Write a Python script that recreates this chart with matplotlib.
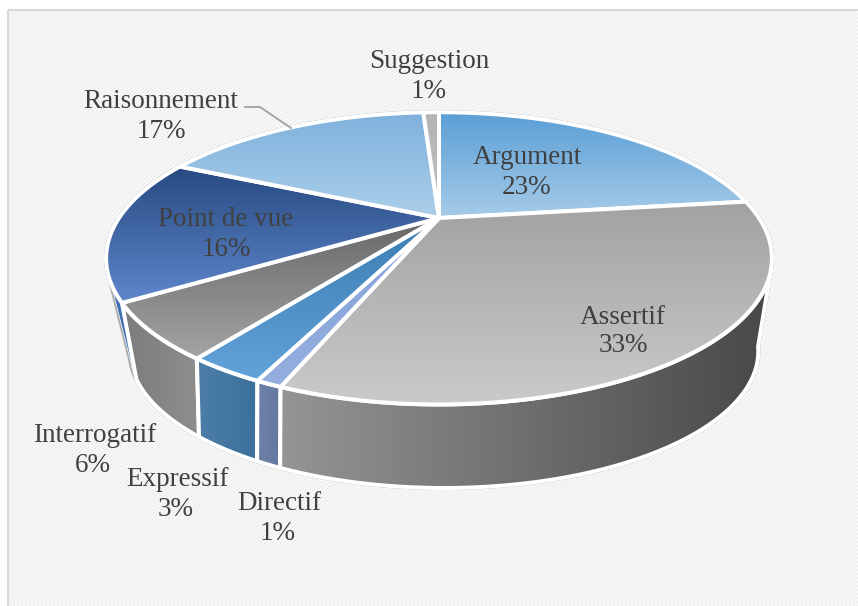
import numpy as np
import matplotlib
matplotlib.use('Agg')
import matplotlib.pyplot as plt
from matplotlib.colors import LinearSegmentedColormap
from matplotlib.patches import Polygon, Rectangle

plt.rcParams['font.family'] = ['Liberation Serif', 'DejaVu Serif']

# data
categories = ['Argument', 'Assertif', 'Directif', 'Expressif', 'Interrogatif',
              'Point de vue', 'Raisonnement', 'Suggestion']
values = [23, 33, 1, 3, 6, 16, 17, 1]

# colours: top face (upper, lower) and side wall (left, right)
top_colors = [('#5a9fd6', '#a6cbe8'), ('#a2a2a2', '#cacaca'), ('#86a2da', '#94aede'),
              ('#3a7db2', '#62a3da'), ('#686868', '#a4a4a4'), ('#264a80', '#5f86cc'),
              ('#7fb1dc', '#abcfea'), ('#b4b4b4', '#c0c0c0')]
wall_colors = [('#5a8fc0', '#5a8fc0'), ('#959595', '#484848'), ('#6d82aa', '#64789f'),
               ('#4c7ea9', '#3b709b'), ('#7c7c7c', '#8e8e8e'), ('#4272b8', '#3a66a8'),
               ('#6f9cc4', '#6f9cc4'), ('#a0a0a0', '#a0a0a0')]

# perspective circle: apex position, half axes and tilt of the top and bottom rims
TOP = (439, 218, 320, 135, 0.276)
BOTTOM = (444, 300.7, 292, 118, 0.37)
# the wall is seen only between these two pie fractions
WALL_FROM = 0.305
WALL_TO = 0.68


def rim(f0, f1, geom):
    # points of the rim between two pie fractions, clockwise from 12 o'clock
    cx, cy, a, b, k = geom
    t = 2 * np.pi * np.linspace(f0, f1, max(int((f1 - f0) * 300), 6))
    d = 1 + k * np.cos(t)
    return np.column_stack([cx + a * np.sin(t) / d, cy - b * np.cos(t) / d])


def gradient_poly(ax, pts, colors, horizontal, z, lw=2.9):
    # gradient image clipped to the polygon, white edge on top
    cmap = LinearSegmentedColormap.from_list('g', colors)
    x0, y0 = pts.min(axis=0)
    x1, y1 = pts.max(axis=0)
    ramp = np.linspace(0, 1, 256)
    ramp = ramp[None, :] if horizontal else ramp[:, None]
    im = ax.imshow(ramp, cmap=cmap, extent=(x0, x1, y1, y0), origin='upper',
                   aspect='auto', zorder=z, vmin=0, vmax=1)
    clip = Polygon(pts, closed=True, transform=ax.transData, fill=False, edgecolor='none')
    ax.add_patch(clip)
    im.set_clip_path(clip)
    ax.add_patch(Polygon(pts, closed=True, fill=False, edgecolor='white', lw=lw,
                         joinstyle='round', zorder=z + 0.1))


fig = plt.figure(figsize=(8.58, 6.06), dpi=100)
ax = fig.add_axes([0, 0, 1, 1])
ax.set_axis_off()

# textured panel
yy, xx = np.indices((606, 858))
texture = np.where((xx + yy) % 4 < 2, 0.975, 0.93)
texture[:9, :] = 1
texture[:, :8] = 1
ax.imshow(texture, cmap='gray', vmin=0, vmax=1, extent=(0, 858, 606, 0), aspect='auto',
          interpolation='nearest', zorder=0)
ax.add_patch(Rectangle((8, 9.5), 860, 610, fill=False, edgecolor='#d9d9d9', lw=1.5, zorder=1))

edges = np.cumsum([0] + values) / sum(values)

# thin grey outline round the whole cake
outline = np.vstack([rim(WALL_FROM, WALL_TO, BOTTOM), rim(WALL_TO, 1 + WALL_FROM, TOP)])
ax.add_patch(Polygon(outline, closed=True, fill=False, edgecolor='#a8a8a8', lw=3.0, zorder=2))

# walls of the front slices, the narrow one at the left goes under its neighbour
for i in range(len(values)):
    f0 = max(edges[i], WALL_FROM)
    f1 = min(edges[i + 1], WALL_TO)
    if f1 <= f0:
        continue
    lw = 0.5 if f1 == WALL_TO else 2.9
    gradient_poly(ax, np.vstack([rim(f0, f1, TOP), rim(f0, f1, BOTTOM)[::-1]]),
                  wall_colors[i], True, 3 + 0.2 * (len(values) - i), lw)

# top faces
for i in range(len(values)):
    face = np.vstack([[TOP[:2]], rim(edges[i], edges[i + 1], TOP)])
    gradient_poly(ax, face, top_colors[i], False, 6 + 0.2 * i)

# labels: centre of the name line, centre of the percent line
name_pos = [(527, 158), (623, 317), (279, 503), (178, 479), (95, 435), (226, 219), (161, 102), (429, 62)]
pct_pos = [(527, 187), (623, 346), (278, 534), (176, 509), (93, 465), (226, 249), (161, 131), (429, 91)]
for name, v, p, q in zip(categories, values, name_pos, pct_pos):
    ax.text(p[0], p[1], name, fontsize=19.5, color='#404040', ha='center', va='center', zorder=10)
    ax.text(q[0], q[1], f'{v}%', fontsize=19.5, color='#404040', ha='center', va='center', zorder=10)

# leader of Raisonnement
ax.plot([245, 260, 291], [107, 107, 128], color='#a6a6a6', lw=1.4, zorder=9)

ax.set_xlim(0, 858)
ax.set_ylim(606, 0)
fig.savefig('out.png', dpi=100)
